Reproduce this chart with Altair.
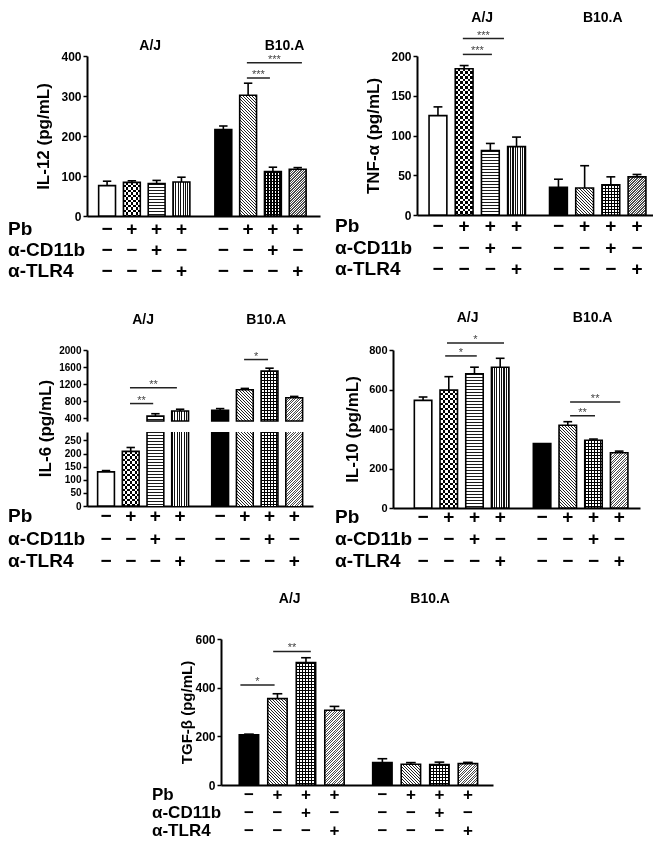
import altair as alt
import pandas as pd

# ---------------- data ----------------
strains = ["A/J", "B10.A"]
row_labels = ["Pb", "α-CD11b", "α-TLR4"]
pb_signs = ["−", "+", "+", "+", "−", "+", "+", "+"]
cd11b_signs = ["−", "−", "+", "−", "−", "−", "+", "−"]
tlr4_signs = ["−", "−", "−", "+", "−", "−", "−", "+"]

il12_mean = [76, 84, 81, 85, 216, 302, 111, 117]
il12_err = [11, 4, 8, 12, 9, 30, 11, 4]
il12_sig = [(4.95, 5.88, 345, "***"), (4.95, 7.17, 383, "***")]

tnf_mean = [125, 184, 81, 86, 35, 34, 38, 48]
tnf_err = [11, 4, 9, 12, 10, 28, 10, 3]
tnf_sig = [(0.95, 2.06, 202, "***"), (0.95, 2.52, 222, "***")]

il6_mean = [130, 208, 455, 575, 590, 1070, 1505, 885]
il6_err = [5, 15, 55, 40, 40, 32, 70, 30]
il6_sig = [(0.97, 1.91, 748, "**"), (0.97, 2.87, 1120, "**"), (4.97, 5.94, 1777, "*")]

il10_mean = [545, 597, 680, 713, 326, 419, 343, 280]
il10_err = [17, 68, 33, 45, 0, 18, 6, 8]
il10_sig = [(0.86, 2.09, 770, "*"), (0.93, 3.15, 836, "*"),
            (5.09, 6.06, 467, "**"), (5.09, 7.04, 537, "**")]

tgf_mean = [206, 355, 503, 307, 92, 85, 84, 88]
tgf_err = [3, 20, 20, 16, 16, 7, 10, 5]
tgf_sig = [(-0.3, 0.9, 411, "*"), (0.85, 2.17, 549, "**")]

pats_std = ["open", "checker", "hlines", "vlines", "solid", "diag", "grid", "dense"]
pats_tgf = ["solid", "diag", "grid", "dense", "solid", "diag", "grid", "dense"]

FONT = "Liberation Sans"
CLEAR = "rgba(255,255,255,0)"


# ---------------- pattern fills (style only) ----------------
def period_stops(length, period, c1, c2, frac):
    stops = []
    pos = 0.0
    length = max(length, 0.5)
    while pos < length - 1e-6:
        a = pos / length
        b = min((pos + frac * period) / length, 1.0)
        c = min((pos + period) / length, 1.0)
        stops += [{"offset": round(a, 5), "color": c1}, {"offset": round(b, 5), "color": c1},
                  {"offset": round(b, 5), "color": c2}, {"offset": round(c, 5), "color": c2}]
        pos += period
    return stops


def hgrad(h, period, c1, c2, frac):
    return {"gradient": "linear", "x1": 0, "y1": 0, "x2": 0, "y2": 1,
            "stops": period_stops(h, period, c1, c2, frac)}


def vgrad(w, period, c1, c2, frac):
    return {"gradient": "linear", "x1": 0, "y1": 0, "x2": 1, "y2": 0,
            "stops": period_stops(w, period, c1, c2, frac)}


def dgrad(w, h, period, c1, c2, frac, down=True):
    k = (w + h) / (w * w + h * h)
    stops = period_stops(w + h, period, c1, c2, frac)
    if down:
        return {"gradient": "linear", "x1": 0, "y1": 1, "x2": round(w * k, 5), "y2": round(1 - h * k, 5),
                "stops": stops}
    return {"gradient": "linear", "x1": 0, "y1": 0, "x2": round(w * k, 5), "y2": round(h * k, 5),
            "stops": stops}


def pattern_specs(p, w, h):
    if p == "open":
        return [("#ffffff", None)]
    if p == "solid":
        return [("#000000", None)]
    if p == "checker":
        return [(hgrad(h, 5.0, "#000000", "#ffffff", 0.5), None),
                (vgrad(w, 5.0, "#ffffff", CLEAR, 0.5), "difference")]
    if p == "hlines":
        return [(hgrad(h, 3.0, "#1a1a1a", "#ffffff", 0.36), None)]
    if p == "vlines":
        return [(vgrad(w, 2.4, "#111111", "#ffffff", 0.45), None)]
    if p == "diag":
        return [(dgrad(w, h, 3.0, "#222222", "#ffffff", 0.38, True), None)]
    if p == "grid":
        return [(hgrad(h, 3.0, "#000000", "#ffffff", 0.36), None),
                (vgrad(w, 3.0, "#000000", CLEAR, 0.36), None)]
    if p == "dense":
        return [(dgrad(w, h, 2.5, "#4a4a4a", "#ffffff", 0.45, False), None)]
    return [("#999999", None)]


def bar_fill_layers(df, X, yscale, heights, wpx):
    out = []
    for i in range(len(df)):
        h = heights[i]
        if h <= 0.5:
            continue
        for fill, blend in pattern_specs(df["pattern"][i], wpx, h):
            kw = dict(fill=fill, strokeWidth=0)
            if blend:
                kw["blend"] = blend
            ch = alt.Chart(df).transform_filter(f"datum.idx == {i}")
            out.append(ch.mark_bar(**kw).encode(
                x=X("xl"), x2="xr", y=alt.Y("mean:Q", scale=yscale, axis=None), y2="zero"))
    return out


def build_frames(means, errs, pats, sigs, bstart, hw=0.34):
    def slot(i):
        return i if i < 3.5 else i - 4 + bstart
    rows = []
    for i in range(8):
        s = slot(i)
        rows.append(dict(idx=i, strain=strains[i // 4], slot=s, xl=s - hw, xr=s + hw,
                         cl=s - 0.17, cr=s + 0.17, mean=means[i], err=errs[i],
                         top=means[i] + errs[i], zero=0, pattern=pats[i]))
    bars = pd.DataFrame(rows)
    srows = []
    for a, b, yv, lab in sigs:
        xa, xb = slot(a), slot(b)
        srows.append(dict(xa=xa, xb=xb, xm=(xa + xb) / 2, yv=yv, label=lab))
    sig = pd.DataFrame(srows)
    trows = []
    for i in range(8):
        for r, signs in zip(row_labels, [pb_signs, cd11b_signs, tlr4_signs]):
            trows.append(dict(slot=slot(i), row=r, sign=signs[i]))
    table = pd.DataFrame(trows)
    return bars, sig, table


def common_layers(table, cfg, X):
    W, H = cfg["w"], cfg["h"]
    xd = cfg["xdom"]
    step = W / (xd[1] - xd[0])
    tdf = pd.DataFrame({"strain": strains,
                        "x": [1.5 + cfg["tdx"][0] / step, cfg["bstart"] + 1.5 + cfg["tdx"][1] / step]})
    titles = alt.Chart(tdf).mark_text(font=FONT, fontSize=14, fontWeight="bold",
                                      baseline="middle").encode(
        x=X("x"), y=alt.value(-cfg["toff"]), text="strain:N")
    o = cfg["tab"]
    tsc = alt.Scale(type="point", domain=row_labels, range=[H + o[0], H + o[1]], padding=0)
    fs = cfg.get("tfs", 19)
    tab = alt.Chart(table).mark_text(font=FONT, fontSize=fs, fontWeight="bold",
                                     baseline="middle").encode(
        x=X("slot"), y=alt.Y("row:N", scale=tsc, axis=None), text="sign:N")
    rl = alt.Chart(pd.DataFrame({"row": row_labels})).mark_text(
        font=FONT, fontSize=fs, fontWeight="bold", align="left",
        baseline="middle").encode(x=alt.value(cfg["rl"]),
                                  y=alt.Y("row:N", scale=tsc, axis=None), text="row:N")
    return [titles, tab, rl]


def xparts(cfg):
    xscale = alt.Scale(domain=cfg["xdom"], nice=False, zero=False)
    xaxis = alt.Axis(labels=False, ticks=False, grid=False, title=None,
                     domainWidth=2, domainColor="black")

    def X(f):
        return alt.X(f, type="quantitative", scale=xscale, axis=xaxis)
    step = cfg["w"] / (cfg["xdom"][1] - cfg["xdom"][0])
    return X, step


def make_panel(means, errs, pats, sigs, ytitle, cfg):
    W, H = cfg["w"], cfg["h"]
    bars, sig, table = build_frames(means, errs, pats, sigs, cfg["bstart"])
    X, step = xparts(cfg)
    ysc = alt.Scale(domain=[0, cfg["ymax"]], nice=False, zero=True)
    yaxis = alt.Axis(values=cfg["ticks"], title=ytitle, titleX=-cfg["tx"], titleBaseline="middle",
                     labelFontSize=cfg["lfs"], titleFontSize=cfg.get("tfsz", 17), format="d")

    def Y(f, axis=None):
        return alt.Y(f, type="quantitative", scale=ysc, axis=axis)

    wpx = 0.68 * step
    heights = [m / cfg["ymax"] * H for m in means]
    layers = bar_fill_layers(bars, X, ysc, heights, wpx)
    layers += [
        alt.Chart(bars).mark_bar(fill="white", fillOpacity=0, stroke="black", strokeWidth=1.6).encode(
            x=X("xl"), x2="xr", y=Y("mean", yaxis), y2="zero"),
        alt.Chart(bars).transform_filter("datum.err > 0").mark_rule(color="black", strokeWidth=1.6).encode(
            x=X("slot"), y=Y("mean"), y2="top"),
        alt.Chart(bars).transform_filter("datum.err > 0").mark_rule(color="black", strokeWidth=1.6).encode(
            x=X("cl"), x2="cr", y=Y("top")),
        alt.Chart(sig).mark_rule(color="#222222", strokeWidth=1.5).encode(
            x=X("xa"), x2="xb", y=Y("yv")),
        alt.Chart(sig).mark_text(font=FONT, fontSize=11, color="#444444", baseline="middle", dy=-3).encode(
            x=X("xm"), y=Y("yv"), text="label:N"),
    ]
    layers += common_layers(table, cfg, X)
    return alt.layer(*layers).resolve_scale(y="independent").properties(width=W, height=H)


def make_broken_panel(means, errs, pats, sigs, ytitle, cfg):
    W, H = cfg["w"], cfg["h"]
    bars, sig, table = build_frames(means, errs, pats, sigs, cfg["bstart"])
    X, step = xparts(cfg)
    up = cfg["upper"]
    lo = cfg["lower"]
    usc = alt.Scale(domain=up["dom"], range=up["rng"], clamp=True, nice=False, zero=False)
    lsc = alt.Scale(domain=lo["dom"], range=lo["rng"], clamp=True, nice=False, zero=False)
    uaxis = alt.Axis(values=up["ticks"], title=None, orient="left", labelFontSize=cfg["lfs"], format="d")
    laxis = alt.Axis(values=lo["ticks"], title=ytitle, orient="left", titleX=-cfg["tx"],
                     titleY=cfg["ty"], titleBaseline="middle", labelFontSize=cfg["lfs"],
                     titleFontSize=17, format="d")
    cut_up = up["dom"][0]
    cut_lo = lo["dom"][1]
    wpx = 0.68 * step
    lo_px = lo["rng"][0] - lo["rng"][1]
    up_px = up["rng"][0] - up["rng"][1]
    lo_h = [min(m, cut_lo) / cut_lo * lo_px for m in means]
    up_h = [max(0, m - cut_up) / (up["dom"][1] - cut_up) * up_px for m in means]
    layers = bar_fill_layers(bars, X, lsc, lo_h, wpx)
    layers += bar_fill_layers(bars, X, usc, up_h, wpx)

    def LY(f, axis=None):
        return alt.Y(f, type="quantitative", scale=lsc, axis=axis)

    def UY(f, axis=None):
        return alt.Y(f, type="quantitative", scale=usc, axis=axis)

    layers += [
        # lower segment: closed outlines for short bars, open-topped sides for cut bars
        alt.Chart(bars).transform_filter(f"datum.mean <= {cut_lo}").mark_bar(
            fill="white", fillOpacity=0, stroke="black", strokeWidth=1.6).encode(
            x=X("xl"), x2="xr", y=LY("mean", laxis), y2="zero"),
        alt.Chart(bars).transform_filter(f"datum.mean > {cut_lo}").mark_rule(
            color="black", strokeWidth=1.6).encode(x=X("xl"), y=LY("mean"), y2="zero"),
        alt.Chart(bars).transform_filter(f"datum.mean > {cut_lo}").mark_rule(
            color="black", strokeWidth=1.6).encode(x=X("xr"), y=LY("mean"), y2="zero"),
        alt.Chart(bars).transform_filter(f"datum.err > 0 && datum.top <= {cut_lo}").mark_rule(
            color="black", strokeWidth=1.6).encode(x=X("slot"), y=LY("mean"), y2="top"),
        alt.Chart(bars).transform_filter(f"datum.err > 0 && datum.top <= {cut_lo}").mark_rule(
            color="black", strokeWidth=1.6).encode(x=X("cl"), x2="cr", y=LY("top")),
        # upper segment
        alt.Chart(bars).transform_filter(f"datum.mean > {cut_up}").mark_bar(
            fill="white", fillOpacity=0, stroke="black", strokeWidth=1.6).encode(
            x=X("xl"), x2="xr", y=UY("mean", uaxis), y2="zero"),
        alt.Chart(bars).transform_filter(f"datum.err > 0 && datum.mean > {cut_up}").mark_rule(
            color="black", strokeWidth=1.6).encode(x=X("slot"), y=UY("mean"), y2="top"),
        alt.Chart(bars).transform_filter(f"datum.err > 0 && datum.mean > {cut_up}").mark_rule(
            color="black", strokeWidth=1.6).encode(x=X("cl"), x2="cr", y=UY("top")),
        alt.Chart(sig).mark_rule(color="#222222", strokeWidth=1.5).encode(
            x=X("xa"), x2="xb", y=UY("yv")),
        alt.Chart(sig).mark_text(font=FONT, fontSize=11, color="#444444", baseline="middle", dy=-3).encode(
            x=X("xm"), y=UY("yv"), text="label:N"),
    ]
    layers += common_layers(table, cfg, X)
    return alt.layer(*layers).resolve_scale(y="independent").properties(width=W, height=H)


p1 = make_panel(il12_mean, il12_err, pats_std, il12_sig, "IL-12 (pg/mL)",
                dict(w=233, h=160, ymax=400, ticks=[0, 100, 200, 300, 400], xdom=[-0.81, 8.59],
                     bstart=4.69, tx=44, lfs=12, toff=10, tdx=[6, 24], tab=[13, 55], rl=-79))
p2 = make_panel(tnf_mean, tnf_err, pats_std, tnf_sig, "TNF-α (pg/mL)",
                dict(w=236, h=159, ymax=200, ticks=[0, 50, 100, 150, 200], xdom=[-0.8, 8.21],
                     bstart=4.6, tx=44, lfs=12, toff=38, tdx=[5, 5], tab=[11, 54], rl=-82))
p3 = make_broken_panel(il6_mean, il6_err, pats_std, il6_sig, "IL-6 (pg/mL)",
                       dict(w=226, h=156, xdom=[-0.77, 8.38], bstart=4.62, tx=42, ty=78, lfs=10,
                            toff=30, tdx=[0, 9], tab=[10, 55], rl=-79,
                            upper=dict(dom=[340, 2000], rng=[71, 0], ticks=[400, 800, 1200, 1600, 2000]),
                            lower=dict(dom=[0, 282], rng=[156, 82], ticks=[0, 50, 100, 150, 200, 250])))
p4 = make_panel(il10_mean, il10_err, pats_std, il10_sig, "IL-10 (pg/mL)",
                dict(w=247, h=158, ymax=800, ticks=[0, 200, 400, 600, 800], xdom=[-1.17, 8.44],
                     bstart=4.63, tx=41, lfs=11, toff=32, tdx=[6, 12], tab=[9, 53], rl=-58))
p5 = make_panel(tgf_mean, tgf_err, pats_tgf, tgf_sig, "TGF-β (pg/mL)",
                dict(w=272, h=146, ymax=600, ticks=[0, 200, 400, 600], xdom=[-0.98, 8.56],
                     bstart=4.68, tx=35, lfs=12, toff=40, tdx=[-2, 5], tab=[10, 46], rl=-69,
                     tfs=17, tfsz=15))

spacer = alt.Chart(pd.DataFrame({"a": [0]})).mark_point(opacity=0, size=1).encode(
    x=alt.value(0), y=alt.value(0)).properties(width=100, height=10)

row1 = alt.hconcat(p1, p2, spacing=97, bounds="flush")
row2 = alt.hconcat(p3, p4, spacing=22)
row3 = alt.hconcat(spacer, p5, spacing=34, bounds="flush")
lower = alt.vconcat(row2, row3, spacing=21)
chart = alt.vconcat(row1, lower, spacing=30).properties(
    padding={"top": 3, "left": 0, "right": 0, "bottom": 0}
).configure_view(
    stroke=None
).configure_axis(
    labelFont=FONT, labelFontWeight="bold", labelColor="black", titleFont=FONT,
    titleFontWeight="bold", titleColor="black", tickColor="black", domainColor="black",
    tickWidth=1.5, domainWidth=2, tickSize=4, labelPadding=2, grid=False
)

chart.save("out.html", embed_options={"renderer": "svg", "actions": False})
